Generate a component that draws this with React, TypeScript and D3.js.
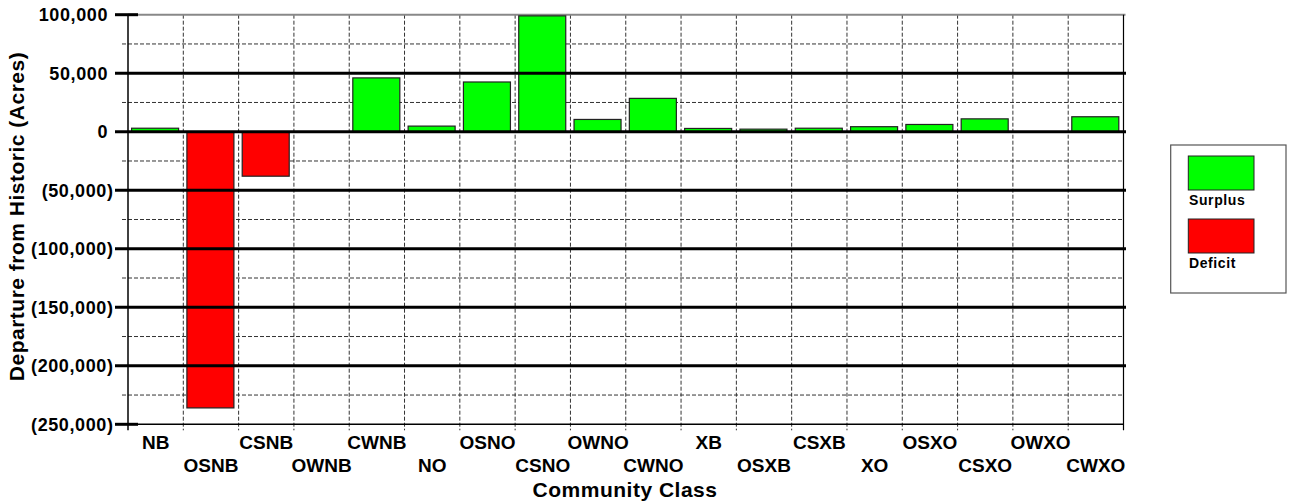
import React from "react";
import * as d3 from "d3";

const categories = ["NB","OSNB","CSNB","OWNB","CWNB","NO","OSNO","CSNO","OWNO","CWNO","XB","OSXB","CSXB","XO","OSXO","CSXO","OWXO","CWXO"];
const departure = [3000,-236000,-38000,0,46000,4800,42500,99000,10500,28500,2800,2200,3000,4300,6200,11000,0,12800];
const majorTicks = [100000,50000,0,-50000,-100000,-150000,-200000,-250000];
const minorTicks = [75000,25000,-25000,-75000,-125000,-175000,-225000];
const legendItems = [{ label: "Surplus", color: "#00ff00" }, { label: "Deficit", color: "#ff0000" }];

const W = 1291, H = 504;
const left = 128, right = 1123.5, top = 14.7, bottom = 424.3;
const font = "'Liberation Sans', Arial, Helvetica, sans-serif";

function fmt(v: number) {
  const s = d3.format(",")(Math.abs(v));
  return v < 0 ? `(${s})` : s;
}

export default function App() {
  const x = d3.scaleBand<string>().domain(categories).range([left, right]).paddingInner(0).paddingOuter(0);
  const y = d3.scaleLinear().domain([-250000, 100000]).range([bottom, top]);
  const bw = x.bandwidth();
  const boundaries = categories.slice(1).map((c) => x(c) as number);

  return (
    <svg width={W} height={H} style={{ position: "absolute", left: 0, top: 0, background: "#fff" }} fontFamily={font}>
      {minorTicks.map((t) => (
        <line key={"mi" + t} x1={122} x2={right} y1={y(t)} y2={y(t)} stroke="#333" strokeWidth={1} strokeDasharray="4,2" />
      ))}
      {boundaries.map((b, i) => (
        <line key={"v" + i} x1={b} x2={b} y1={top} y2={bottom + 6} stroke="#333" strokeWidth={1} strokeDasharray="4,2" />
      ))}
      <line x1={left} x2={right + 2} y1={y(100000)} y2={y(100000)} stroke="#888" strokeWidth={2} />
      {categories.map((c, i) => {
        const v = departure[i];
        if (v === 0) return null;
        const x0 = (x(c) as number) + bw * 0.065;
        return (
          <rect key={c} x={x0} width={bw * 0.85} y={y(Math.max(0, v))} height={Math.abs(y(v) - y(0))}
            fill={v >= 0 ? "#00ff00" : "#ff0000"} stroke="#222" strokeWidth={1.2} />
        );
      })}
      {majorTicks.filter((t) => t !== 100000 && t !== -250000).map((t) => (
        <line key={"ma" + t} x1={115} x2={right + 2.5} y1={y(t)} y2={y(t)} stroke="#000" strokeWidth={3} />
      ))}
      <line x1={left} x2={right} y1={y(-250000)} y2={y(-250000)} stroke="#000" strokeWidth={1.5} />
      {[100000, -250000].map((t) => (
        <line key={"tk" + t} x1={115} x2={138} y1={y(t)} y2={y(t)} stroke="#000" strokeWidth={3} />
      ))}
      <line x1={left} x2={left} y1={top} y2={bottom + 6} stroke="#000" strokeWidth={1.5} />
      <line x1={right} x2={right} y1={top} y2={bottom + 6} stroke="#000" strokeWidth={1.2} />
      {majorTicks.map((t) => (
        <text key={"yl" + t} x={t < 0 ? 113.5 : 108} y={y(t)} dy="0.36em" textAnchor="end" fontSize={18}
          fontWeight="bold" letterSpacing={0.6} fill="#000">{fmt(t)}</text>
      ))}
      {categories.map((c, i) => (
        <text key={"xl" + c} x={(x(c) as number) + bw / 2} y={i % 2 === 0 ? 449 : 471.5} textAnchor="middle"
          fontSize={19} fontWeight="bold" fill="#000">{c}</text>
      ))}
      <text x={625} y={496.5} textAnchor="middle" fontSize={21} fontWeight="bold" letterSpacing={0.5} fill="#000">Community Class</text>
      <text transform="translate(24,216.5) rotate(-90)" textAnchor="middle" fontSize={21} fontWeight="bold" letterSpacing={0.5} fill="#000">Departure from Historic (Acres)</text>
      <rect x={1170.7} y={145} width={115.3} height={148} fill="#fff" stroke="#555" strokeWidth={1.2} />
      {legendItems.map((d, i) => (
        <g key={d.label}>
          <rect x={1188.3} y={156 + i * 63} width={65.7} height={34} fill={d.color} stroke="#222" strokeWidth={1} />
          <text x={1189} y={205 + i * 63} fontSize={14} fontWeight="bold" letterSpacing={0.6} fill="#000">{d.label}</text>
        </g>
      ))}
    </svg>
  );
}
